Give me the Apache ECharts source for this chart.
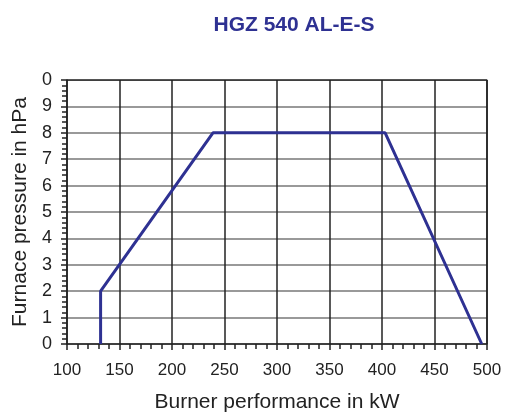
<!DOCTYPE html>
<html>
<head>
<meta charset="utf-8">
<script src="https://cdn.jsdelivr.net/npm/echarts@6/dist/echarts.min.js"></script>
<style>
  html, body { margin: 0; padding: 0; background: #fff; }
  #chart { width: 507px; height: 412px; }
</style>
</head>
<body>
<div id="chart"></div>
<script>
// working range of the burner (kW, hPa)
var powerKW = [132, 132, 239, 403, 495];
var pressureHPa = [0, 2, 8, 8, 0];
// the top label reads "0" in the original (the "1" of 10 is cut off)
var yTickLabels = ['0', '1', '2', '3', '4', '5', '6', '7', '8', '9', '0'];

var chartDom = document.getElementById('chart');
var myChart = echarts.init(chartDom);
var blue = '#2e3192';
var option;

option = {
  animation: false,
  title: {
    text: 'HGZ 540 AL-E-S',
    left: 289,
    top: 10,
    textAlign: 'center',
    textStyle: {
      color: blue,
      fontFamily: 'Liberation Sans',
      fontWeight: 'bold',
      fontSize: 21
    }
  },
  grid: {
    left: 67,
    right: 20,
    top: 80,
    bottom: 68,
    outerBoundsMode: 'none'
  },
  xAxis: {
    type: 'value',
    min: 100,
    max: 500,
    interval: 50,
    name: 'Burner performance in kW',
    nameLocation: 'middle',
    nameGap: 48,
    nameTextStyle: { color: '#222', fontFamily: 'Liberation Sans', fontSize: 21 },
    axisLine: { show: true, lineStyle: { color: '#222', width: 1.5 } },
    axisTick: { show: true, length: 6, lineStyle: { color: '#222', width: 1.5 } },
    minorTick: { show: true, splitNumber: 5, length: 5, lineStyle: { color: '#222', width: 1.5 } },
    axisLabel: { color: '#222', fontFamily: 'Liberation Sans', fontSize: 17, margin: 18 },
    splitLine: { show: true, lineStyle: { color: '#222', width: 1.5 } }
  },
  yAxis: {
    type: 'value',
    min: 0,
    max: 10,
    interval: 1,
    name: 'Furnace pressure in hPa',
    nameLocation: 'middle',
    nameGap: 36,
    nameTextStyle: { color: '#222', fontFamily: 'Liberation Sans', fontSize: 21 },
    axisLine: { show: true, lineStyle: { color: '#222', width: 1.5 } },
    axisTick: { show: true, length: 6, lineStyle: { color: '#222', width: 1.5 } },
    minorTick: { show: true, splitNumber: 5, length: 5, lineStyle: { color: '#222', width: 1.5 } },
    axisLabel: {
      color: '#222',
      fontFamily: 'Liberation Sans',
      fontSize: 18,
      margin: 15,
      formatter: function (v) { return yTickLabels[Math.round(v)]; }
    },
    splitLine: { show: true, lineStyle: { color: '#777', width: 1.5 } }
  },
  series: [
    {
      name: 'range',
      type: 'line',
      data: powerKW.map(function (x, i) { return [x, pressureHPa[i]]; }),
      symbol: 'none',
      lineStyle: { color: blue, width: 3 },
      z: 5
    },
    {
      // top and right frame
      type: 'line',
      data: [[100, 10], [500, 10], [500, 0]],
      symbol: 'none',
      silent: true,
      lineStyle: { color: '#222', width: 1.5 },
      z: 1
    }
  ]
};

option && myChart.setOption(option);
</script>
</body>
</html>
